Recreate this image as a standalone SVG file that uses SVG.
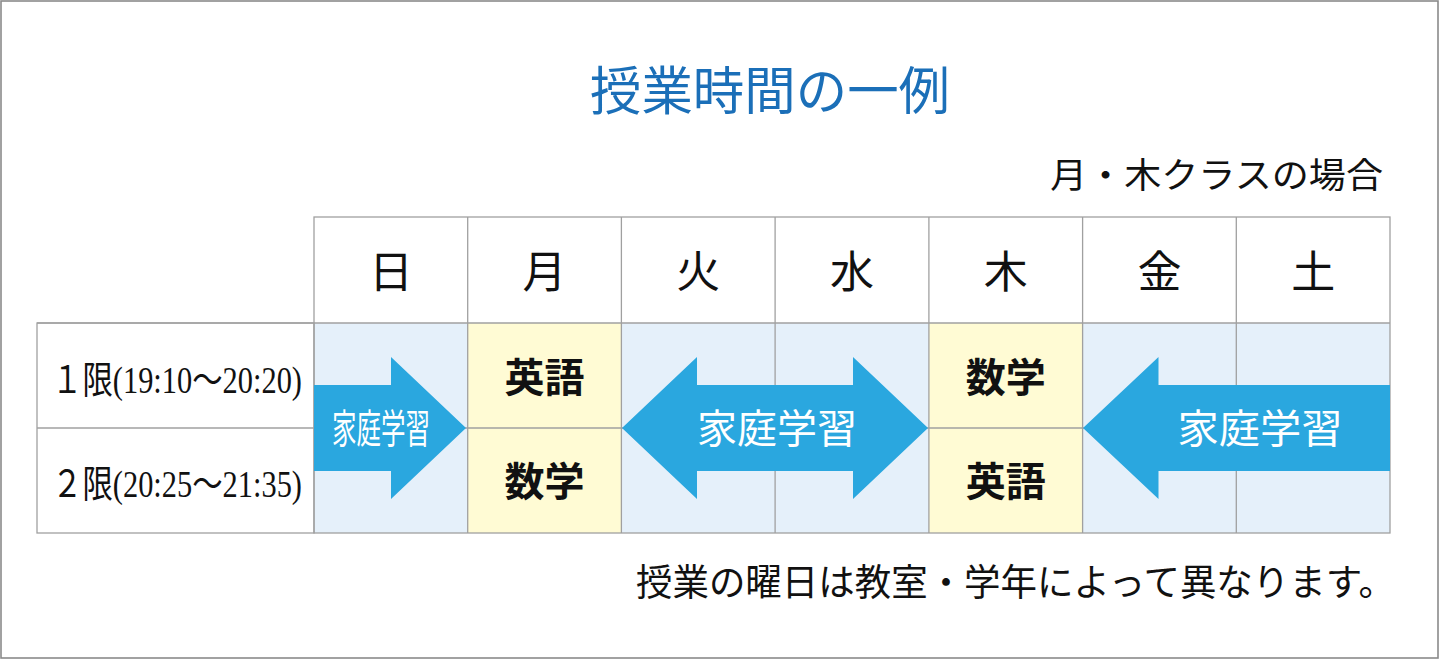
<svg xmlns="http://www.w3.org/2000/svg" width="1440" height="660" viewBox="0 0 1440 660">
<style>
.grid{fill:none;stroke:#a0a0a0;stroke-width:1.3}
.blue{fill:#e5f0fa}
.yel{fill:#fffbd4}
.arrow{fill:#2aa7df}
.serif{font-family:"Liberation Serif","Noto Sans CJK JP",serif;fill:#111}
.day{font-size:44px;text-anchor:middle}
.subj{font-family:"Noto Sans CJK JP","Noto Sans",sans-serif;font-weight:bold;font-size:40px;text-anchor:middle;fill:#111}
.atext{font-family:"Noto Sans CJK JP","Noto Sans",sans-serif;font-size:40px;fill:#fff;text-anchor:middle}
</style>
<rect x="0" y="0" width="1440" height="660" fill="#fff"/>
<rect x="1" y="1" width="1437" height="657" fill="none" stroke="#8a8a8a" stroke-width="1.6"/>

<g id="title">
<text x="770" y="110" font-family="Liberation Serif, Noto Sans CJK JP, serif" font-size="52" fill="#1b6fb8" text-anchor="middle" textLength="360" lengthAdjust="spacingAndGlyphs">授業時間の一例</text>
</g>
<g id="subtitle">
<text x="1383" y="188" class="serif" font-size="35" text-anchor="end" textLength="333" lengthAdjust="spacingAndGlyphs">月・木クラスの場合</text>
</g>

<g id="cells">
<rect class="blue" x="314" y="323" width="153.7" height="210"/>
<rect class="yel" x="467.7" y="323" width="153.7" height="210"/>
<rect class="blue" x="621.4" y="323" width="307.5" height="210"/>
<rect class="yel" x="928.9" y="323" width="153.7" height="210"/>
<rect class="blue" x="1082.6" y="323" width="307.4" height="210"/>
</g>

<g id="grid">
<rect class="grid" x="314" y="217" width="1076" height="316"/>
<rect class="grid" x="37" y="323" width="277" height="210"/>
<line class="grid" x1="37" y1="323" x2="1390" y2="323"/>
<line class="grid" x1="37" y1="428" x2="1390" y2="428"/>
<line class="grid" x1="467.7" y1="217" x2="467.7" y2="533"/>
<line class="grid" x1="621.4" y1="217" x2="621.4" y2="533"/>
<line class="grid" x1="775.1" y1="217" x2="775.1" y2="533"/>
<line class="grid" x1="928.9" y1="217" x2="928.9" y2="533"/>
<line class="grid" x1="1082.6" y1="217" x2="1082.6" y2="533"/>
<line class="grid" x1="1236.3" y1="217" x2="1236.3" y2="533"/>
</g>

<g id="days" class="serif day">
<text x="390.9" y="288">日</text>
<text x="544.6" y="288">月</text>
<text x="698.3" y="288">火</text>
<text x="852" y="288">水</text>
<text x="1005.7" y="288">木</text>
<text x="1159.4" y="288">金</text>
<text x="1313.2" y="288">土</text>
</g>

<g id="periods" class="serif">
<text x="52" y="393" font-size="38" textLength="250" lengthAdjust="spacingAndGlyphs">１限(19:10～20:20)</text>
<text x="52" y="497" font-size="38" textLength="250" lengthAdjust="spacingAndGlyphs">２限(20:25～21:35)</text>
</g>

<g id="subjects">
<text class="subj" x="544.6" y="392">英語</text>
<text class="subj" x="544.6" y="496">数学</text>
<text class="subj" x="1005.7" y="392">数学</text>
<text class="subj" x="1005.7" y="496">英語</text>
</g>

<g id="connectors">
<polygon id="arrow1" class="arrow" points="314,385 391,385 391,357 466,428 391,499 391,471 314,471"/>
<polygon id="arrow2" class="arrow" points="622,428 697,357 697,385 853,385 853,357 928,428 853,499 853,471 697,471 697,499"/>
<polygon id="arrow3" class="arrow" points="1083,428 1158.5,357 1158.5,385 1390,385 1390,471 1158.5,471 1158.5,499"/>
</g>

<g id="arrow-labels">
<text class="atext" x="381" y="443" textLength="98" lengthAdjust="spacingAndGlyphs">家庭学習</text>
<text class="atext" x="777" y="443" textLength="160" lengthAdjust="spacingAndGlyphs">家庭学習</text>
<text class="atext" x="1260" y="443" textLength="165" lengthAdjust="spacingAndGlyphs">家庭学習</text>
</g>

<g id="note">
<text x="636" y="596" class="serif" font-size="37" textLength="759" lengthAdjust="spacingAndGlyphs">授業の曜日は教室・学年によって異なります。</text>
</g>
</svg>
